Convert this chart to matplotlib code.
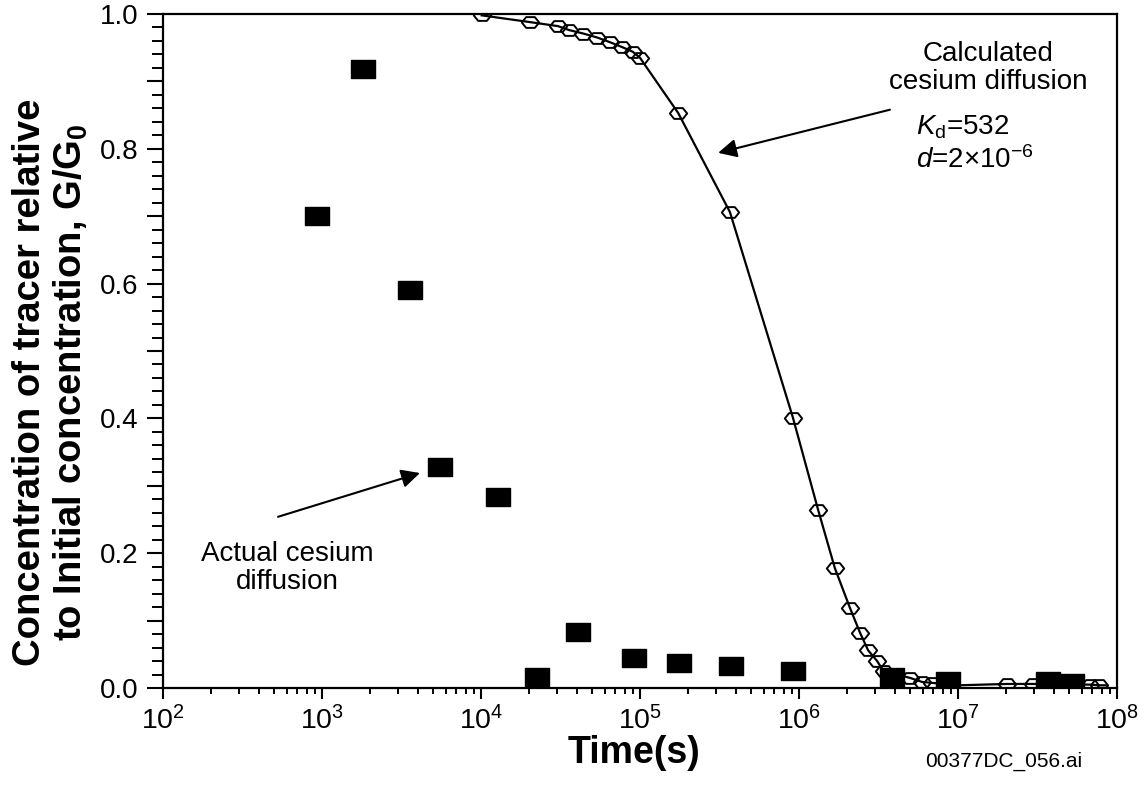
import numpy as np
import matplotlib
matplotlib.use("Agg")
import matplotlib.pyplot as plt
from matplotlib.path import Path
from matplotlib.ticker import FixedLocator, FuncFormatter, LogLocator, NullFormatter, MultipleLocator

plt.rcParams['font.family'] = ['Liberation Sans', 'DejaVu Sans']
plt.rcParams['mathtext.fontset'] = 'custom'
plt.rcParams['mathtext.rm'] = 'Liberation Sans'
plt.rcParams['mathtext.it'] = 'Liberation Sans:italic'
plt.rcParams['mathtext.bf'] = 'Liberation Sans:bold'

# Actual cesium diffusion (measured)
actual_t = [931, 1800, 3600, 5560, 12700, 22600, 40700, 91600, 175000, 373000, 920000,
            3.85e6, 8.7e6, 3.68e7, 5.2e7]
actual_g = [0.70, 0.918, 0.59, 0.328, 0.284, 0.017, 0.083, 0.0445, 0.037, 0.033, 0.025,
            0.016, 0.010, 0.010, 0.007]

# Calculated cesium diffusion (Kd=532, d=2e-6)
calc_t = [1.01e4, 2.03e4, 3.05e4, 3.6e4, 4.4e4, 5.4e4, 6.5e4, 7.7e4, 9.0e4, 1.0e5,
          1.74e5, 3.68e5, 9.16e5, 1.32e6, 1.68e6, 2.09e6, 2.42e6, 2.72e6, 3.1e6,
          3.4e6, 4.99e6, 5.94e6, 6.86e6, 2.04e7, 2.96e7, 6.8e7, 7.7e7]
calc_g = [0.998, 0.988, 0.982, 0.976, 0.971, 0.965, 0.958, 0.951, 0.944, 0.935,
          0.853, 0.706, 0.401, 0.264, 0.178, 0.119, 0.082, 0.056, 0.040,
          0.025, 0.015, 0.009, 0.008, 0.006, 0.006, 0.005, 0.004]

# Calculated curve (line) tail beyond the last marker
line_t = calc_t[:22] + [1.0e7] + calc_t[23:] + [8.5e7]
line_g = calc_g[:22] + [0.004] + calc_g[23:] + [0.004]

y_ticks = [0.0, 0.2, 0.4, 0.6, 0.8, 1.0]
x_decades = [2, 3, 4, 5, 6, 7, 8]

fig = plt.figure(figsize=(11.46, 7.86), dpi=100)
ax = fig.add_axes([163/1146, 1-688/786, (1117-163)/1146, (688-14)/786])

rect = Path([(-1, -0.78), (1, -0.78), (1, 0.78), (-1, 0.78), (-1, -0.78)],
            [Path.MOVETO, Path.LINETO, Path.LINETO, Path.LINETO, Path.CLOSEPOLY])
hexm = Path([(-1, 0), (-0.5, 0.62), (0.5, 0.62), (1, 0), (0.5, -0.62), (-0.5, -0.62), (-1, 0)],
            [Path.MOVETO] + [Path.LINETO]*5 + [Path.CLOSEPOLY])

ax.plot(line_t, line_g, color='black', lw=1.6, zorder=3)
ax.plot(calc_t, calc_g, linestyle='none', marker=hexm, markersize=12.5,
        markerfacecolor='none', markeredgecolor='black', markeredgewidth=1.4, zorder=3)
ax.plot(actual_t, actual_g, linestyle='none', marker=rect, markersize=17,
        color='black', zorder=4)

ax.set_xscale('log')
ax.set_xlim(1e2, 1e8)
ax.set_ylim(0, 1.0)

ax.xaxis.set_major_locator(FixedLocator([10.0**d for d in x_decades]))
ax.xaxis.set_major_formatter(FuncFormatter(lambda v, _: '10$^{%d}$' % int(round(np.log10(v)))))
ax.xaxis.set_minor_locator(LogLocator(base=10, subs=np.arange(2, 10), numticks=20))
ax.xaxis.set_minor_formatter(NullFormatter())

ax.yaxis.set_major_locator(MultipleLocator(0.1))
ax.yaxis.set_major_formatter(FuncFormatter(
    lambda v, _: ('%.1f' % v) if any(abs(v - t) < 1e-6 for t in y_ticks) else ''))
ax.yaxis.set_minor_locator(MultipleLocator(0.02))

ax.tick_params(axis='x', which='major', direction='out', length=8, width=1.5,
               labelsize=20.5, pad=5, top=False)
ax.tick_params(axis='x', which='minor', direction='out', length=4, width=1.4, top=False)
ax.tick_params(axis='y', which='major', direction='out', length=11.5, width=1.5,
               labelsize=20, pad=6, right=False)
ax.tick_params(axis='y', which='minor', direction='out', length=8, width=1.4, right=False)
for s in ax.spines.values():
    s.set_linewidth(1.6)

fig.text(51/1146, 1-382/786, 'Concentration of tracer relative\nto Initial concentration, G/G$_\\mathbf{0}$',
         rotation=90, ha='center', va='center', fontsize=27.5, fontweight='bold',
         multialignment='center', linespacing=1.1)
fig.text(634/1146, 1-753/786, 'Time(s)', ha='center', va='center', fontsize=27, fontweight='bold')
fig.text(1004/1146, 1-761/786, '00377DC_056.ai', ha='center', va='center', fontsize=15)

# Annotations
ax.text(1.55e7, 0.92, 'Calculated\ncesium diffusion', ha='center', va='center',
        fontsize=20, linespacing=1.1)
ax.text(5.45e6, 0.832, '$K_\\mathrm{d}$=532', ha='left', va='center', fontsize=20)
ax.text(5.45e6, 0.783, '$d$=2\u00d710$^{-6}$', ha='left', va='center', fontsize=20)
ax.annotate('', xy=(3.1e5, 0.794), xytext=(3.73e6, 0.858),
            arrowprops=dict(arrowstyle='-|>', color='black', lw=1.5, mutation_scale=28,
                            shrinkA=0, shrinkB=0))

ax.text(603, 0.178, 'Actual cesium\ndiffusion', ha='center', va='center',
        fontsize=20, linespacing=1.1)
ax.annotate('', xy=(4130, 0.319), xytext=(529, 0.254),
            arrowprops=dict(arrowstyle='-|>', color='black', lw=1.5, mutation_scale=28,
                            shrinkA=0, shrinkB=0))

fig.savefig('out.png', dpi=100)
